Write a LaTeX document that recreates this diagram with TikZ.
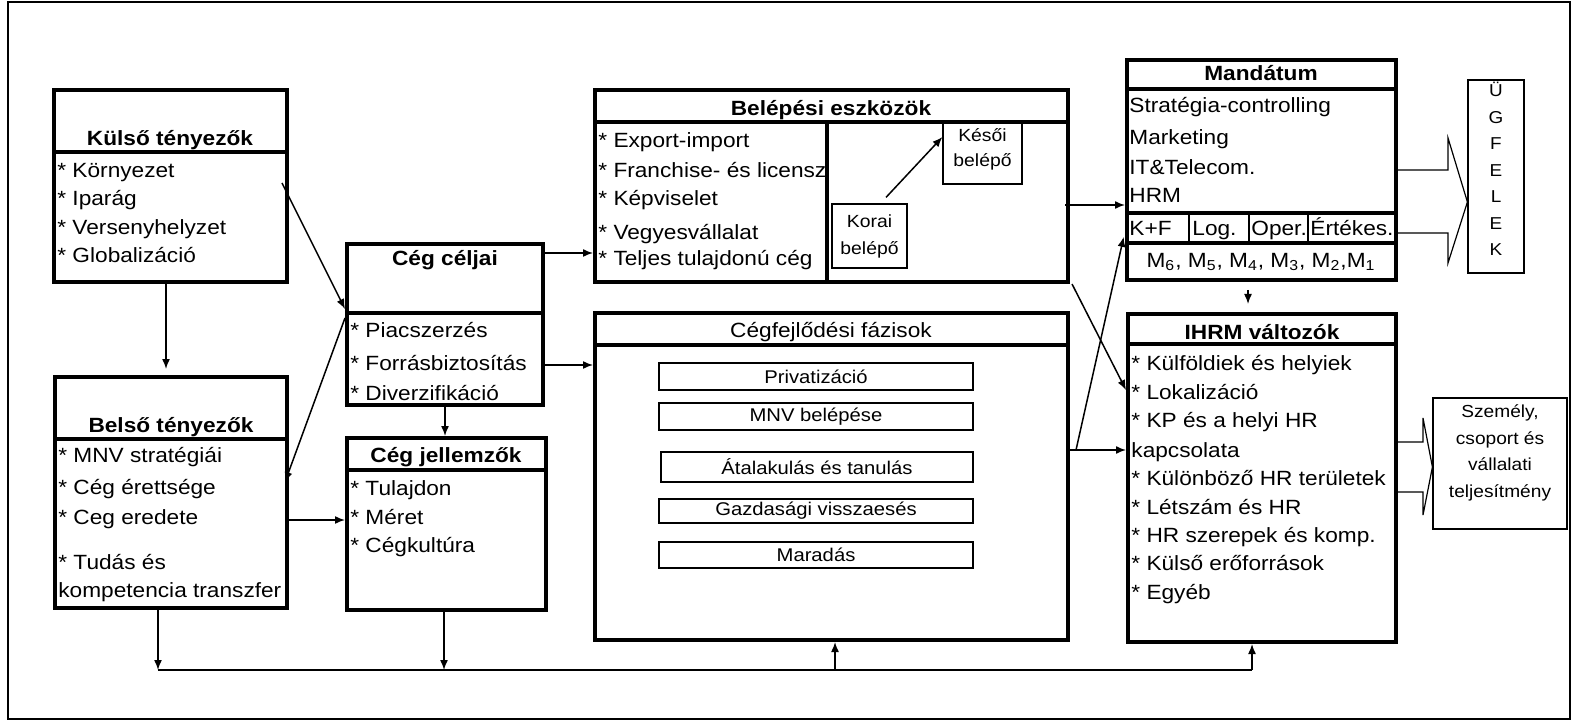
\documentclass[tikz,border=0pt]{standalone}
\usepackage{fontspec}
\setmainfont{Liberation Sans}[FakeStretch=1.1]
\usetikzlibrary{arrows.meta,fit,shadows}

\tikzset{
  bigbox/.style={draw, fill=white, line width=2pt, inner sep=0pt,
    drop shadow={shadow xshift=0.8pt, shadow yshift=-0.8pt, opacity=1, fill=black}},
  thinbox/.style={draw, line width=0.6pt, inner sep=0pt},
  entry/.style={anchor=west, inner sep=0pt, text height=7.4pt, text depth=0pt, font=\fontsize{10.3}{12}\selectfont},
  boxtitle/.style={entry, anchor=center, font=\fontsize{10.3}{12}\selectfont\bfseries},
  phase/.style={thinbox, font=\fontsize{9.2}{10}\selectfont},
  conn/.style={line width=0.75pt, -{Latex[length=5pt,width=4pt]}},
}

\begin{document}
\begin{tikzpicture}[x=0.5pt, y=-0.5pt]
\useasboundingbox (0,0) rectangle (1572,721);
\draw[line width=0.6pt] (8,2) rectangle (1570,719);

% Kulso tenyezok
\node[bigbox, fit={(54,90) (287,282)}] (kulso) {};
\draw[line width=2pt] (kulso.west |- 0,152) -- (kulso.east |- 0,152);
\node[boxtitle] at (170,138) {Külső tényezők};
\foreach \y/\t in {170/Környezet, 198/Iparág, 227/Versenyhelyzet, 255/Globalizáció}
  \node[entry] at (57,\y) {* \t};

% Belso tenyezok
\node[bigbox, fit={(55,377) (287,608)}] (belso) {};
\draw[line width=2pt] (belso.west |- 0,439) -- (belso.east |- 0,439);
\node[boxtitle] at (171,425) {Belső tényezők};
\foreach \y/\t in {455/* MNV stratégiái, 487/* Cég érettsége, 517/* Ceg eredete,
                   562/* Tudás és, 590/kompetencia transzfer}
  \node[entry] at (58,\y) {\t};

% Ceg celjai
\node[bigbox, fit={(347,244) (543,405)}] (celjai) {};
\draw[line width=2pt] (celjai.west |- 0,313) -- (celjai.east |- 0,313);
\node[boxtitle] at (445,258) {Cég céljai};
\foreach \y/\t in {330/Piacszerzés, 363/Forrásbiztosítás, 393/Diverzifikáció}
  \node[entry] at (350,\y) {* \t};

% Ceg jellemzok
\node[bigbox, fit={(347,438) (546,610)}] (jellem) {};
\draw[line width=2pt] (jellem.west |- 0,470) -- (jellem.east |- 0,470);
\node[boxtitle] at (446,455) {Cég jellemzők};
\foreach \y/\t in {488/Tulajdon, 517/Méret, 545/Cégkultúra}
  \node[entry] at (350,\y) {* \t};

% Belepesi eszkozok
\node[bigbox, fit={(595,90) (1068,282)}] (belep) {};
\draw[line width=2pt] (belep.west |- 0,122) -- (belep.east |- 0,122);
\draw[line width=2pt] (827,0 |- 0,122) -- (827,0 |- belep.south);
\node[boxtitle] at (831,108) {Belépési eszközök};
\begin{scope}
  \clip (belep.north west) rectangle (826,282);
  \foreach \y/\t in {140/Export-import, 170/Franchise- és licenszadás, 198/Képviselet,
                     232/Vegyesvállalat, 258/Teljes tulajdonú cég}
    \node[entry] at (598,\y) {* \t};
\end{scope}
\node[thinbox, fit={(832,204) (907,268)}] (korai) {};
\node[align=center, font=\fontsize{8.8}{13.5}\selectfont] at (korai.center) {Korai\\belépő};
\node[thinbox, fit={(943,123) (1022,184)}] (kesoi) {};
\node[align=center, font=\fontsize{8.8}{12.5}\selectfont] at ([yshift=2pt]kesoi.center) {Késői\\belépő};
\draw[line width=0.75pt, -{Latex[length=5pt,width=4pt]}]
  ([xshift=8.25pt,yshift=3pt]korai.north) -- (kesoi.west |- 0,137);

% Cegfejlodesi fazisok
\node[bigbox, fit={(595,313) (1068,640)}] (fazis) {};
\draw[line width=2pt] (fazis.west |- 0,345) -- (fazis.east |- 0,345);
\node[entry, anchor=center] at (831,330) {Cégfejlődési fázisok};
\node[phase, fit={(659,363) (973,390)}] (privat) {};
\node[font=\fontsize{9.2}{10}\selectfont] at (privat.center) {Privatizáció};
\node[phase, fit={(659,403) (973,430)}] (mnv) {};
\node[font=\fontsize{9.2}{10}\selectfont] at (mnv.center) {MNV belépése};
\node[phase, fit={(661,452) (973,482)}] (atal) {};
\node[font=\fontsize{9.2}{10}\selectfont] at (atal.center) {Átalakulás és tanulás};
\node[phase, fit={(659,499) (973,523)}] (gazd) {};
\node[font=\fontsize{9.2}{10}\selectfont] at (gazd.center) {Gazdasági visszaesés};
\node[phase, fit={(659,542) (973,568)}] (marad) {};
\node[font=\fontsize{9.2}{10}\selectfont] at (marad.center) {Maradás};

% Mandatum
\node[bigbox, fit={(1127,60) (1396,280)}] (mand) {};
\draw[line width=2pt] (mand.west |- 0,89) -- (mand.east |- 0,89);
\draw[line width=2pt] (mand.west |- 0,213) -- (mand.east |- 0,213);
\draw[line width=2pt] (mand.west |- 0,243) -- (mand.east |- 0,243);
\foreach \x in {1189,1249,1308}
  \draw[line width=1pt] (\x,213) -- (\x,243);
\node[boxtitle] at (1261,73) {Mandátum};
\foreach \y/\t in {105/Stratégia-controlling, 137/Marketing, 167/IT\&Telecom., 195/HRM}
  \node[entry] at (1129,\y) {\t};
\foreach \x/\t in {1129/K+F, 1192/Log., 1251/Oper., 1310/Értékes.}
  \node[entry] at (\x,228) {\t};
\node[entry, anchor=center] at (1261,260)
  {M\textsubscript{6}, M\textsubscript{5}, M\textsubscript{4}, M\textsubscript{3}, M\textsubscript{2},M\textsubscript{1}};

% IHRM valtozok
\node[bigbox, fit={(1128,314) (1396,642)}] (ihrm) {};
\draw[line width=2pt] (ihrm.west |- 0,344) -- (ihrm.east |- 0,344);
\node[boxtitle] at (1262,332) {IHRM változók};
\foreach \y/\t in {363/* Külföldiek és helyiek, 392/* Lokalizáció, 420/* KP és a helyi HR,
                   450/kapcsolata, 478/* Különböző HR területek, 507/* Létszám és HR,
                   535/* HR szerepek és komp., 563/* Külső erőforrások, 592/* Egyéb}
  \node[entry] at (1131,\y) {\t};

% Ugyfelek, teljesitmeny
\node[thinbox, fit={(1468,80) (1524,273)}, align=center,
      font=\fontsize{8.6}{13.25}\selectfont] (ugf) {Ü\\G\\F\\E\\L\\E\\K};
\node[thinbox, fit={(1433,398) (1567,529)}] (szem) {};
\node[align=center, font=\fontsize{8.7}{13.3}\selectfont] at (1500,453)
  {Személy,\\csoport és\\vállalati\\teljesítmény};
\draw[line width=0.6pt] (mand.east |- 0,170) -- (1448,170) -- (1448,138) -- (ugf.west |- 0,202)
  -- (1448,263) -- (1448,233) -- (mand.east |- 0,233);
\draw[line width=0.6pt] (ihrm.east |- 0,442) -- (1423,442) -- (1423,418) -- (szem.west |- 0,467)
  -- (1423,515) -- (1423,492) -- (ihrm.east |- 0,492);

% connectors
\draw[conn, shorten >=3pt] (kulso.south -| 166,0) -- (belso.north -| 166,0);
\draw[conn] ([xshift=-3.5pt]kulso.east |- 0,183) -- (celjai.west |- 0,309);
\draw[conn] (celjai.west |- 0,318) -- ([xshift=-2pt]belso.east |- 0,482);
\draw[conn] (belso.east |- 0,520) -- (jellem.west |- 0,520);
\draw[conn] (celjai.south -| 445,0) -- (jellem.north -| 445,0);
\draw[conn] (celjai.east |- 0,253) -- (belep.west |- 0,253);
\draw[conn] ([xshift=-2pt]celjai.east |- 0,365) -- (fazis.west |- 0,365);
\draw[conn] ([xshift=-2.5pt]belep.east |- 0,205) -- (mand.west |- 0,205);
\draw[conn] ([xshift=1pt]belep.south east) -- (ihrm.west |- 0,390);
\draw[conn] (fazis.east |- 0,450) -- (ihrm.west |- 0,450);
\draw[conn, shorten >=3pt] ([xshift=3pt]fazis.east |- 0,450) -- (mand.west |- 0,231);
\draw[conn, shorten <=4pt, shorten >=4pt] (mand.south -| 1248,0) -- (ihrm.north -| 1248,0);

% bottom feedback line
\coordinate (busL) at (158,670);
\coordinate (busR) at (1252,670);
\draw[line width=0.75pt] (busL) -- (busR);
\draw[conn] (belso.south -| busL) -- (busL);
\draw[conn] (jellem.south -| 444,0) -- (busL -| 444,0);
\draw[conn] (busL -| 835,0) -- (fazis.south -| 835,0);
\draw[conn] (busR) -- (ihrm.south -| busR);
\end{tikzpicture}
\end{document}
